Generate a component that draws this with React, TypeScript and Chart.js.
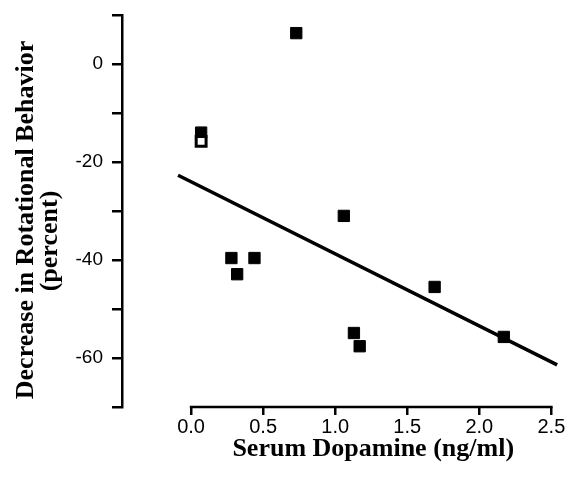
import React, { useEffect, useRef } from 'react';
import { Chart, registerables } from 'chart.js';

Chart.register(...registerables);

// Serum dopamine (ng/ml) vs decrease in rotational behavior (percent)
const filledX = [0.73, 0.07, 0.28, 0.44, 0.32, 1.06, 1.69, 1.13, 1.17, 2.17];
const filledY = [6.3, -14.0, -39.6, -39.6, -42.9, -31.0, -45.5, -54.9, -57.6, -55.7];
const openX = [0.07];
const openY = [-15.8];
// regression line end points
const fitX = [-0.09, 2.54];
const fitY = [-22.7, -61.4];

const xTickValues = [0, 0.5, 1.0, 1.5, 2.0, 2.5];
const yTickValues = [-70, -60, -50, -40, -30, -20, -10, 0, 10];
const yLabeledValues = [0, -20, -40, -60];

const xTitle = 'Serum Dopamine (ng/ml)';
const yTitle = ['Decrease in Rotational Behavior', '(percent)'];

const axisPlugin = {
  id: 'customAxes',
  afterDraw(chart: any) {
    const { ctx, chartArea } = chart;
    const xs = chart.scales.x;
    const x0 = xs.getPixelForValue(xTickValues[0]);
    const x1 = xs.getPixelForValue(xTickValues[xTickValues.length - 1]);
    ctx.save();
    // x axis line only across tick range
    ctx.strokeStyle = '#000';
    ctx.lineWidth = 2.5;
    ctx.beginPath();
    ctx.moveTo(x0 - 1.25, chartArea.bottom);
    ctx.lineTo(x1 + 1.25, chartArea.bottom);
    ctx.stroke();

    // x title
    ctx.fillStyle = '#000';
    ctx.font = 'bold 26px "Liberation Serif"';
    ctx.textAlign = 'center';
    ctx.textBaseline = 'alphabetic';
    ctx.fillText(xTitle, (x0 + x1) / 2 + 2, 456);

    // y title (two lines, rotated)
    ctx.save();
    ctx.translate(33, 220);
    ctx.rotate(-Math.PI / 2);
    ctx.fillText(yTitle[0], 0, 0);
    ctx.restore();
    ctx.save();
    ctx.translate(57, 241);
    ctx.rotate(-Math.PI / 2);
    ctx.fillText(yTitle[1], 0, 0);
    ctx.restore();
    ctx.restore();
  },
};

export default function App() {
  const canvasRef = useRef<HTMLCanvasElement | null>(null);

  useEffect(() => {
    const canvas = canvasRef.current;
    if (!canvas) return;
    const chart = new Chart(canvas, {
      type: 'scatter',
      data: {
        datasets: [
          {
            label: 'open',
            data: openX.map((x, i) => ({ x, y: openY[i] })),
            pointStyle: 'rect',
            pointRadius: 7,
            borderWidth: 3,
            borderColor: '#000',
            backgroundColor: '#fff',
          },
          {
            label: 'filled',
            data: filledX.map((x, i) => ({ x, y: filledY[i] })),
            pointStyle: 'rect',
            pointRadius: 8,
            borderWidth: 1,
            borderColor: '#000',
            backgroundColor: '#000',
          },
          {
            type: 'line',
            label: 'fit',
            data: fitX.map((x, i) => ({ x, y: fitY[i] })),
            showLine: true,
            pointRadius: 0,
            borderWidth: 3.5,
            borderColor: '#000',
            backgroundColor: '#000',
            fill: false,
          } as any,
        ],
      },
      options: {
        animation: false,
        responsive: false,
        maintainAspectRatio: false,
        layout: { padding: { top: 15, right: 3, bottom: 0, left: 0 } },
        plugins: { legend: { display: false }, tooltip: { enabled: false } },
        scales: {
          x: {
            type: 'linear',
            min: -0.479,
            max: 2.546,
            afterBuildTicks: (s: any) => {
              s.ticks = xTickValues.map((v) => ({ value: v }));
            },
            afterFit: (s: any) => {
              s.height = 82;
              s.paddingLeft = 0;
              s.paddingRight = 0;
            },
            ticks: {
              callback: (v: any) => Number(v).toFixed(1),
              color: '#000',
              font: { family: '"Liberation Sans"', size: 20 },
              padding: 0,
              maxRotation: 0,
              autoSkip: false,
            },
            grid: {
              drawOnChartArea: false,
              drawTicks: true,
              tickLength: 8,
              color: '#000',
              lineWidth: 2.5,
            },
            border: { display: false },
          },
          y: {
            type: 'linear',
            min: -70,
            max: 10,
            afterBuildTicks: (s: any) => {
              s.ticks = yTickValues.map((v) => ({ value: v }));
            },
            afterFit: (s: any) => {
              s.width = 122;
              s.paddingTop = 0;
              s.paddingBottom = 0;
            },
            ticks: {
              callback: (v: any) => (yLabeledValues.includes(Number(v)) ? String(v) : ''),
              color: '#000',
              font: { family: '"Liberation Sans"', size: 19 },
              padding: 9,
              autoSkip: false,
            },
            grid: {
              drawOnChartArea: false,
              drawTicks: true,
              tickLength: 10,
              color: '#000',
              lineWidth: 2.5,
            },
            border: { display: true, color: '#000', width: 2.5 },
          },
        },
      },
      plugins: [axisPlugin],
    });
    return () => chart.destroy();
  }, []);

  return (
    <div style={{ position: 'fixed', left: 0, top: 0, width: 568, height: 489, background: '#fff' }}>
      <canvas ref={canvasRef} width={568} height={489} />
    </div>
  );
}
